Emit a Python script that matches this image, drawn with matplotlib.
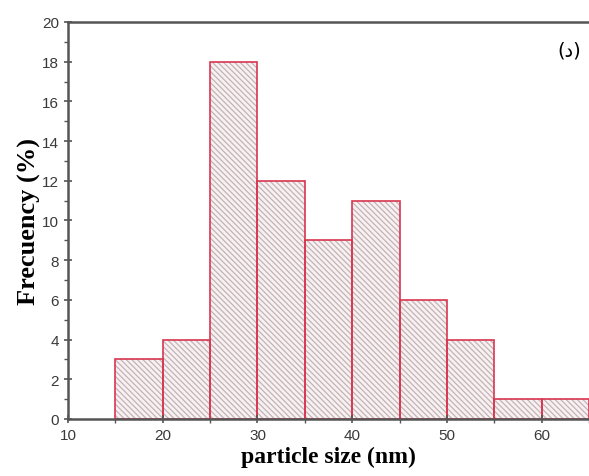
import matplotlib
matplotlib.use("Agg")
import matplotlib.pyplot as plt
from matplotlib.ticker import MultipleLocator

bin_left = [15, 20, 25, 30, 35, 40, 45, 50, 55, 60]
bin_width = 5
frequency = [3, 4, 18, 12, 9, 11, 6, 4, 1, 1]
panel_label = "(د)"

plt.rcParams["hatch.linewidth"] = 0.9

fig = plt.figure(figsize=(5.89, 4.77), dpi=100)
ax = fig.add_axes([0.1155, 0.1195, 0.8845, 0.8323])

# hatched fill first, then red outlines on top
ax.bar(bin_left, frequency, width=bin_width, align="edge", color="#fbf0f1",
       edgecolor="#bdb5b7", hatch="\\" * 6, linewidth=0)
ax.bar(bin_left, frequency, width=bin_width, align="edge", fill=False,
       edgecolor="#d8364f", linewidth=1.2)

ax.set_xlim(10, 65)
ax.set_ylim(0, 20)
ax.xaxis.set_major_locator(MultipleLocator(10))
ax.xaxis.set_minor_locator(MultipleLocator(5))
ax.yaxis.set_major_locator(MultipleLocator(2))
ax.yaxis.set_minor_locator(MultipleLocator(1))

for s in ["left", "bottom", "top"]:
    ax.spines[s].set_color("#555555")
    ax.spines[s].set_linewidth(1.8)
ax.spines["right"].set_visible(False)

ax.tick_params(which="major", direction="inout", length=6, width=1.2,
               colors="#555555", labelsize=11, labelcolor="#3a3a3a")
ax.tick_params(which="minor", direction="out", length=3, width=1, colors="#555555")
ax.tick_params(axis="x", which="both", top=False)
ax.tick_params(axis="y", which="both", right=False)
for lab in ax.get_xticklabels() + ax.get_yticklabels():
    lab.set_family("Liberation Sans")

ax.set_xlabel("particle size (nm)", family="Liberation Serif", fontweight="bold",
              fontsize=17, labelpad=3)
ax.set_ylabel("Frecuency (%)", family="Liberation Serif", fontweight="bold",
              fontsize=19, labelpad=1)

ax.text(0.962, 0.93, panel_label, transform=ax.transAxes, ha="center", va="center",
        fontsize=14, family="DejaVu Sans")

fig.savefig("out.png", dpi=100)
